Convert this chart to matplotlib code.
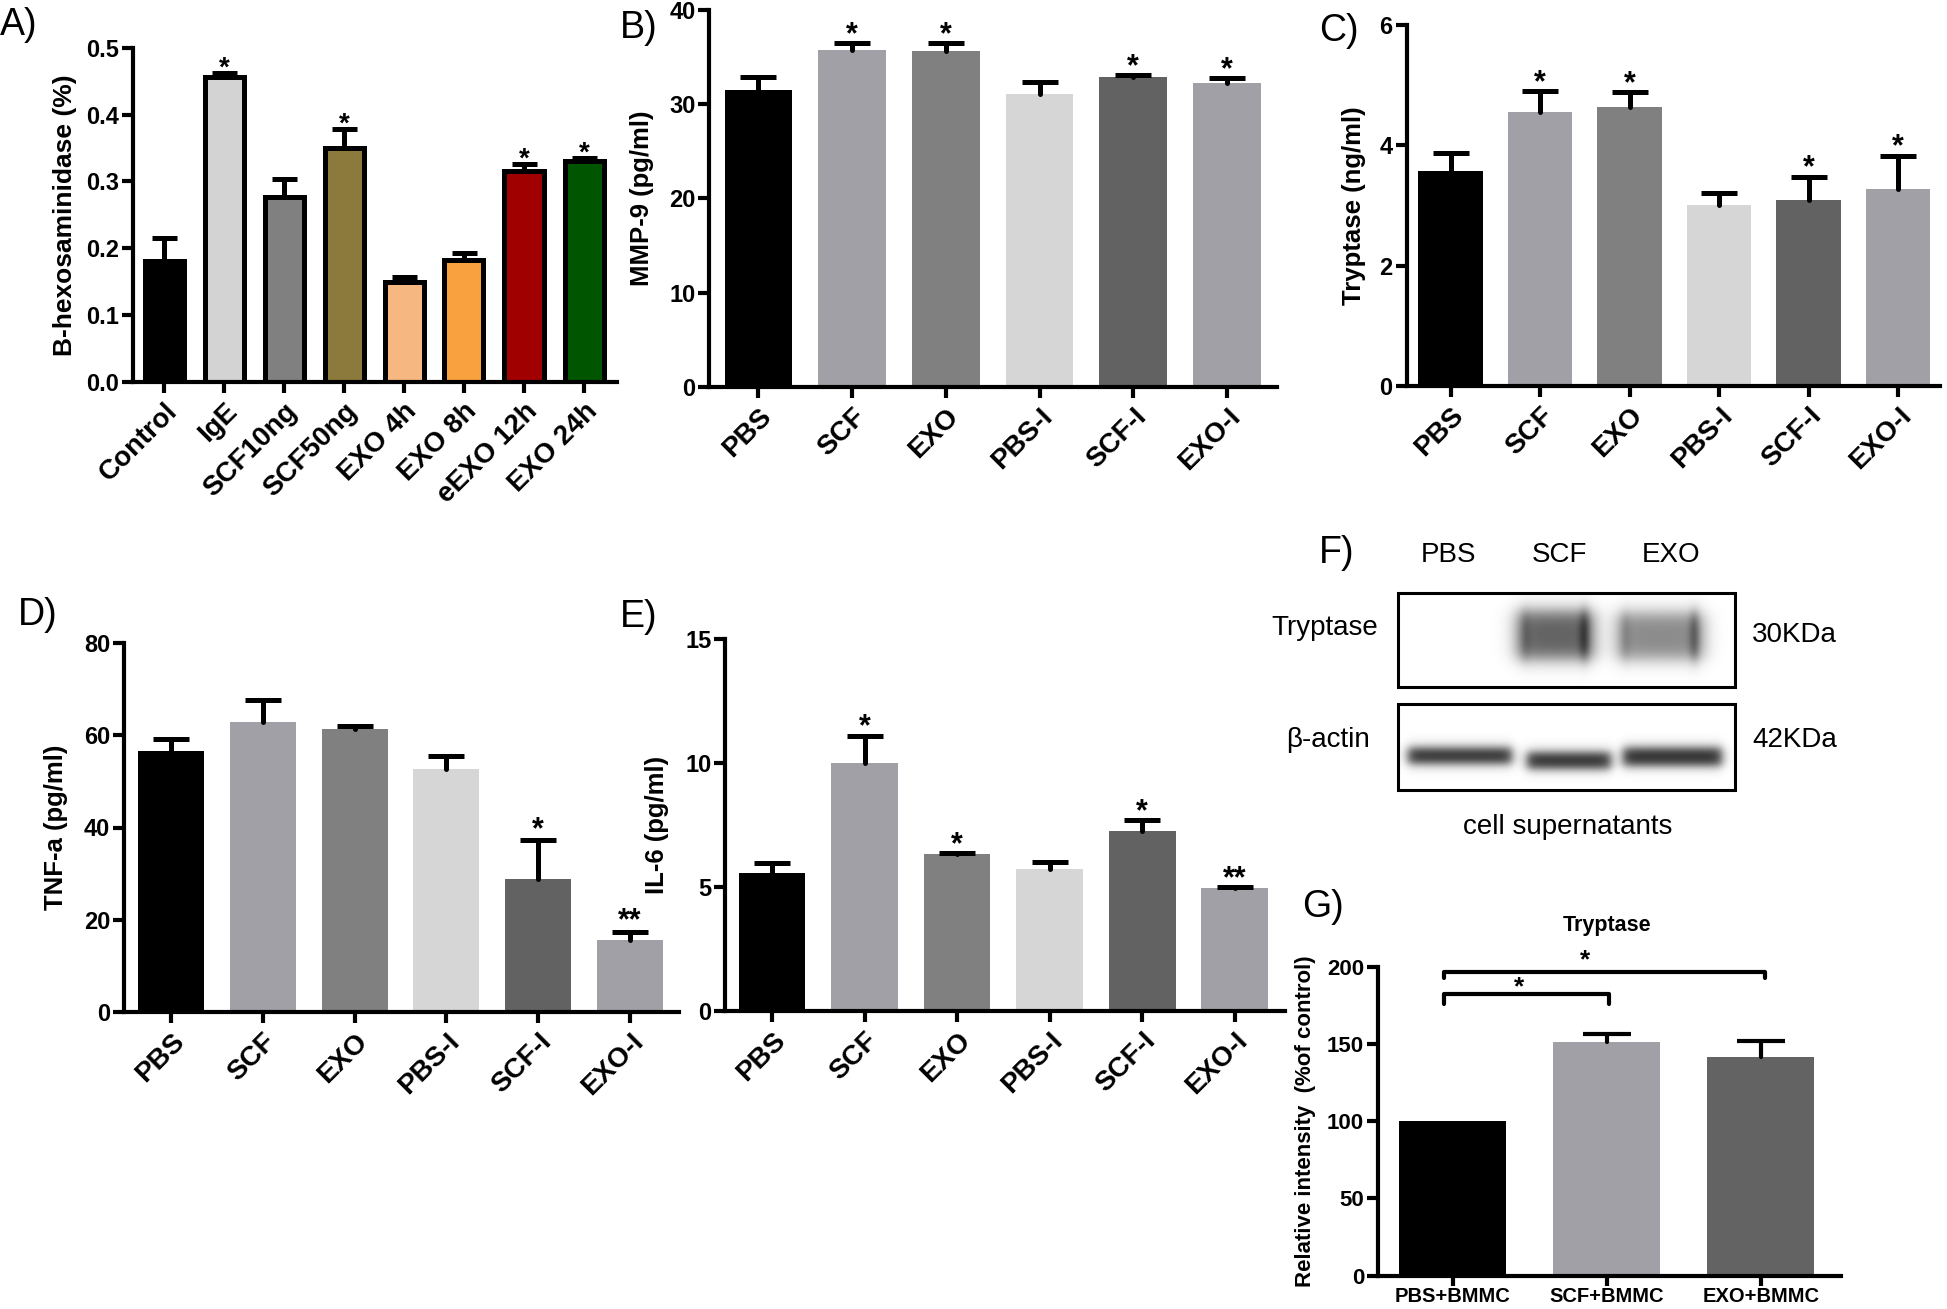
import numpy as np
import matplotlib
matplotlib.use('Agg')
import matplotlib.pyplot as plt
from matplotlib.patches import Rectangle

W, H = 1947, 1309
plt.rcParams['font.family'] = ['Liberation Sans', 'DejaVu Sans']
plt.rcParams['font.weight'] = 'bold'

# ---- data ----
a_labels = ['Control', 'IgE', 'SCF10ng', 'SCF50ng', 'EXO 4h', 'EXO 8h', 'eEXO 12h', 'EXO 24h']
a_mean = [0.180, 0.456, 0.277, 0.350, 0.150, 0.182, 0.315, 0.330]
a_err = [0.035, 0.006, 0.027, 0.028, 0.007, 0.010, 0.011, 0.005]
a_colors = ['#000000', '#d3d3d3', '#808080', '#8c7a3c', '#f6b880', '#f9a13f', '#a00000', '#005500']
a_stars = {1: '*', 3: '*', 6: '*', 7: '*'}

grp = ['PBS', 'SCF', 'EXO', 'PBS-I', 'SCF-I', 'EXO-I']
grp_colors = ['#000000', '#a0a0a6', '#808080', '#d6d6d6', '#626262', '#a0a0a6']

b_mean = [31.5, 35.7, 35.6, 31.1, 32.9, 32.2]
b_err = [1.4, 0.8, 0.9, 1.3, 0.2, 0.6]
b_stars = {1: '*', 2: '*', 4: '*', 5: '*'}

c_mean = [3.57, 4.56, 4.64, 3.01, 3.09, 3.28]
c_err = [0.30, 0.34, 0.25, 0.20, 0.39, 0.55]
c_stars = {1: '*', 2: '*', 4: '*', 5: '*'}

d_mean = [56.5, 62.8, 61.4, 52.7, 28.8, 15.6]
d_err = [2.6, 4.9, 0.5, 2.8, 8.4, 1.8]
d_stars = {4: '*', 5: '**'}

e_mean = [5.55, 9.99, 6.33, 5.73, 7.27, 4.95]
e_err = [0.40, 1.11, 0.05, 0.27, 0.43, 0.06]
e_stars = {1: '*', 2: '*', 4: '*', 5: '**'}

g_labels = ['PBS+BMMC', 'SCF+BMMC', 'EXO+BMMC']
g_mean = [100, 151.4, 141.9]
g_err = [0, 4.9, 9.9]
g_colors = ['#000000', '#a0a0a6', '#636363']

blot_lanes = ['PBS', 'SCF', 'EXO']
tryptase_int = [0.0, 0.62, 0.46]
actin_int = [0.86, 0.86, 0.86]

fig = plt.figure(figsize=(W / 100, H / 100), dpi=100)


def fx(x):
    return x / W


def fy(y):
    return 1 - y / H


def panel_axes(l, t, r, b):
    return fig.add_axes([l / W, 1 - b / H, (r - l) / W, (b - t) / H])


def bar_panel(box, c0, sp, labels, means, errs, colors, ymax, yticks, yticklabels,
              ylabel, ylab_x, stars, width=0.72, capsize=13, edge=False,
              rot=45, xfs=20, yfs=17, lfs=18.5, sfs=22, soff=0, elw=3.6, tlen=8, xpad=4):
    l, t, r, b = box
    ax = panel_axes(l, t, r, b)
    x = np.arange(len(labels))
    m = np.array(means, dtype=float)
    e = np.array(errs, dtype=float)
    if edge:
        ax.bar(x, m, width, color=colors, edgecolor='black', linewidth=3.6, zorder=2)
    else:
        ax.bar(x, m, width, color=colors, zorder=2)
    has = e > 0
    eb = ax.errorbar(x[has], m[has], yerr=[np.zeros(has.sum()), e[has]], fmt='none',
                     ecolor='black', elinewidth=elw, capsize=capsize, capthick=elw,
                     zorder=3, clip_on=False)
    # keep only the upper caps
    eb[1][0].set_visible(False)
    for lc in eb[2]:
        lc.set_capstyle('round')
    for i, s in stars.items():
        ax.annotate(s, (x[i], m[i] + e[i]), xytext=(0, soff), textcoords='offset points',
                    ha='center', va='baseline', fontsize=sfs, fontweight='bold',
                    annotation_clip=False)
    ax.set_xlim((l - c0) / sp, (r - c0) / sp)
    ax.set_ylim(0, ymax)
    ax.set_yticks(yticks)
    ax.set_yticklabels(yticklabels, fontsize=yfs)
    ax.set_xticks(x)
    if rot:
        ax.set_xticklabels(labels, rotation=rot, ha='right', va='top',
                           rotation_mode='anchor', fontsize=xfs)
    else:
        ax.set_xticklabels(labels, fontsize=xfs)
    for s in ['top', 'right']:
        ax.spines[s].set_visible(False)
    for s in ['left', 'bottom']:
        ax.spines[s].set_linewidth(3)
        ax.spines[s].set_capstyle('projecting')
    ax.tick_params(width=3, length=8, direction='out', pad=2)
    ax.tick_params(axis='x', pad=xpad, length=tlen)
    ax.set_ylabel(ylabel, fontsize=lfs, fontweight='bold', va='center')
    ax.yaxis.set_label_coords(fx(ylab_x), fy((t + b) / 2), transform=fig.transFigure)
    return ax


# A
bar_panel((132.7, 47.7, 616.7, 381.7), 164, 60, a_labels, a_mean, a_err, a_colors, 0.5,
          [0, 0.1, 0.2, 0.3, 0.4, 0.5], ['0.0', '0.1', '0.2', '0.3', '0.4', '0.5'],
          'B-hexosaminidase (%)', 65, a_stars, width=0.65, capsize=9, edge=True,
          lfs=19, soff=-2, sfs=20)
# B
bar_panel((709.4, 10, 1276.7, 386.7), 758.4, 93.7, grp, b_mean, b_err, grp_colors, 40,
          [0, 10, 20, 30, 40], ['0', '10', '20', '30', '40'],
          'MMP-9 (pg/ml)', 642, b_stars)
# C
bar_panel((1406.5, 25, 1940, 386), 1450.6, 89.5, grp, c_mean, c_err, grp_colors, 6,
          [0, 2, 4, 6], ['0', '2', '4', '6'],
          'Tryptase (ng/ml)', 1354, c_stars)
# D
bar_panel((124, 643, 678.6, 1012), 171, 91.8, grp, d_mean, d_err, grp_colors, 80,
          [0, 20, 40, 60, 80], ['0', '20', '40', '60', '80'],
          'TNF-a (pg/ml)', 56, d_stars, soff=1.5)
# E
bar_panel((725.4, 639, 1285, 1011), 772, 92.56, grp, e_mean, e_err, grp_colors, 15,
          [0, 5, 10, 15], ['0', '5', '10', '15'],
          'IL-6 (pg/ml)', 657, e_stars)
# G
axg = bar_panel((1378, 967, 1840.6, 1275.5), 1452.8, 154, g_labels, g_mean, g_err, g_colors, 200,
                [0, 50, 100, 150, 200], ['0', '50', '100', '150', '200'],
                'Relative intensity  (%of control)', 1306, {}, width=0.695, capsize=17,
                rot=0, xfs=14.5, yfs=16, lfs=16, elw=3, tlen=7, xpad=1)
axg.plot([-0.057, -0.057, 1.014, 1.014], [176, 182.4, 182.4, 176], color='black', lw=3,
         clip_on=False, solid_capstyle='round')
axg.plot([-0.057, -0.057, 2.026, 2.026], [193, 197, 197, 193], color='black', lw=3,
         clip_on=False, solid_capstyle='round')
axg.text(0.43, 182.5, '*', ha='center', va='baseline', fontsize=19, fontweight='bold', clip_on=False)
axg.text(0.86, 199.5, '*', ha='center', va='baseline', fontsize=19, fontweight='bold', clip_on=False)
fig.text(fx(1607), fy(926), 'Tryptase', ha='center', va='center', fontsize=15.5, fontweight='bold')

# F: western blot
axf = panel_axes(1250, 520, 1850, 850)
axf.axis('off')


def soft(t):
    return 1 / (1 + np.exp(-t))


def band_image(x0, x1, y0, y1, bands):
    xs = np.arange(x0, x1) + 0.5
    ys = np.arange(y0, y1) + 0.5
    X, Y = np.meshgrid(xs, ys)
    dark = np.zeros_like(X)
    for bx0, bx1, by0, by1, k, inten, rim in bands:
        m = soft((X - bx0) / k) * soft((bx1 - X) / k) * soft((Y - by0) / k) * soft((by1 - Y) / k)
        if rim:
            m = m * (1 + rim * np.exp(-((X - (bx1 - 9)) / 6) ** 2)
                     + 0.4 * rim * np.exp(-((X - (bx0 + 8)) / 6) ** 2))
        dark += inten * m
    return 1 - np.clip(dark, 0, 1)


top_bands = [
    (1517, 1594, 611, 659, 5, tryptase_int[1], 0.45),
    (1617, 1704, 613, 659, 5, tryptase_int[2], 0.6),
]
bot_bands = [
    (1408, 1512, 748, 763.5, 3, actin_int[0], 0),
    (1527, 1611, 752.5, 768.5, 3, actin_int[1], 0),
    (1623, 1722, 748, 765.5, 3, actin_int[2], 0),
]
img_top = band_image(1398, 1735, 593, 687, top_bands)
img_bot = band_image(1398, 1735, 704, 790, bot_bands)
axf.imshow(img_top, cmap='gray', vmin=0, vmax=1, extent=(1398, 1735, 687, 593),
           origin='upper', aspect='auto', interpolation='bilinear')
axf.imshow(img_bot, cmap='gray', vmin=0, vmax=1, extent=(1398, 1735, 790, 704),
           origin='upper', aspect='auto', interpolation='bilinear')
axf.add_patch(Rectangle((1398, 593), 337, 94, fill=False, lw=2.2, ec='black'))
axf.add_patch(Rectangle((1398, 704), 337, 86, fill=False, lw=2.2, ec='black'))
axf.set_xlim(1250, 1850)
axf.set_ylim(850, 520)
for name, cx in zip(blot_lanes, [1448, 1559, 1671.5]):
    axf.text(cx, 555, name, ha='center', va='center', fontsize=20, fontweight='normal')
axf.text(1378, 628, 'Tryptase', ha='right', va='center', fontsize=20, fontweight='normal')
axf.text(1370, 740, 'β-actin', ha='right', va='center', fontsize=20, fontweight='normal')
axf.text(1752, 635, '30KDa', ha='left', va='center', fontsize=20, fontweight='normal')
axf.text(1752, 740, '42KDa', ha='left', va='center', fontsize=20, fontweight='normal')
axf.text(1568, 827, 'cell supernatants', ha='center', va='center', fontsize=20, fontweight='normal')

# panel letters
for lab, x, y in [('A)', 0, 25), ('B)', 620, 28), ('C)', 1319, 31), ('D)', 18, 615),
                  ('E)', 620, 617), ('F)', 1319, 553), ('G)', 1302, 907)]:
    fig.text(fx(x), fy(y), lab, ha='left', va='center', fontsize=27, fontweight='normal')

fig.savefig('out.png', dpi=100)
